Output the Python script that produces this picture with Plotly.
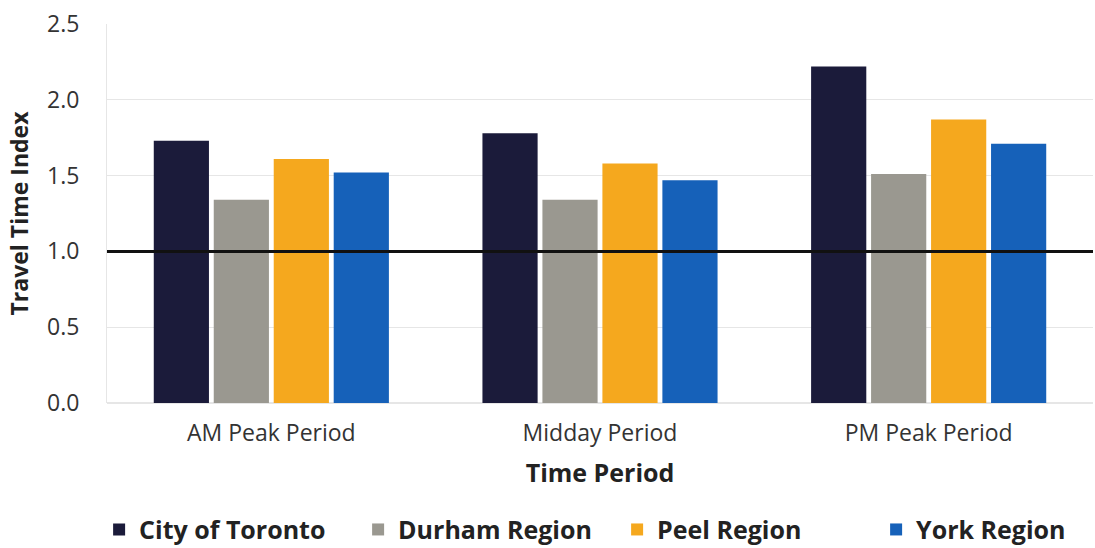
import plotly.graph_objects as go

periods = ["AM Peak Period", "Midday Period", "PM Peak Period"]
regions = ["City of Toronto", "Durham Region", "Peel Region", "York Region"]
toronto = [1.73, 1.78, 2.22]
durham = [1.34, 1.34, 1.51]
peel = [1.61, 1.58, 1.87]
york = [1.52, 1.47, 1.71]
colors = ["#1b1b3a", "#9a9890", "#f5a81e", "#1661b9"]
y_ticks = [0.0, 0.5, 1.0, 1.5, 2.0, 2.5]

FONT = "Open Sans"

fig = go.Figure()
for name, vals, col in zip(regions, [toronto, durham, peel, york], colors):
    fig.add_trace(go.Bar(x=periods, y=vals, name=name, marker=dict(color=col, line=dict(width=0))))

# Reference line at index = 1.0 (free-flow travel time)
fig.add_shape(type="line", xref="paper", x0=0, x1=1, yref="y", y0=1.0, y1=1.0,
              line=dict(color="#111111", width=3), layer="above")

fig.update_layout(
    width=1095, height=548,
    margin=dict(l=107, r=2, t=24, b=145, autoexpand=False),
    paper_bgcolor="white", plot_bgcolor="white",
    barmode="group", bargap=0.27, bargroupgap=0.08,
    font=dict(family=FONT, color="#333333", size=22),
    xaxis=dict(
        tickfont=dict(size=23, color="#333333"),
        ticklabelstandoff=14,
        title=dict(text="<b>Time Period</b>", font=dict(size=25, color="#222222"), standoff=17),
        showline=False, ticks="",
    ),
    yaxis=dict(
        range=[0, 2.5], tickvals=y_ticks, tickformat=".1f",
        tickfont=dict(size=23, color="#333333"),
        gridcolor="#e6e6e6", gridwidth=1,
        zeroline=True, zerolinecolor="#e6e6e6",
        showline=True, linecolor="#e6e6e6",
        ticks="", ticklabelstandoff=22,
        title=dict(text="<b>Travel Time Index</b>", font=dict(size=23, color="#222222"), standoff=12),
    ),
    legend=dict(
        orientation="h", x=-0.008, xanchor="left", y=-0.395, yanchor="bottom",
        font=dict(size=25, color="#222222", weight="bold"),
        entrywidth=214, entrywidthmode="pixels", itemwidth=30,
        traceorder="normal",
    ),
)

fig.write_html("out.html")
